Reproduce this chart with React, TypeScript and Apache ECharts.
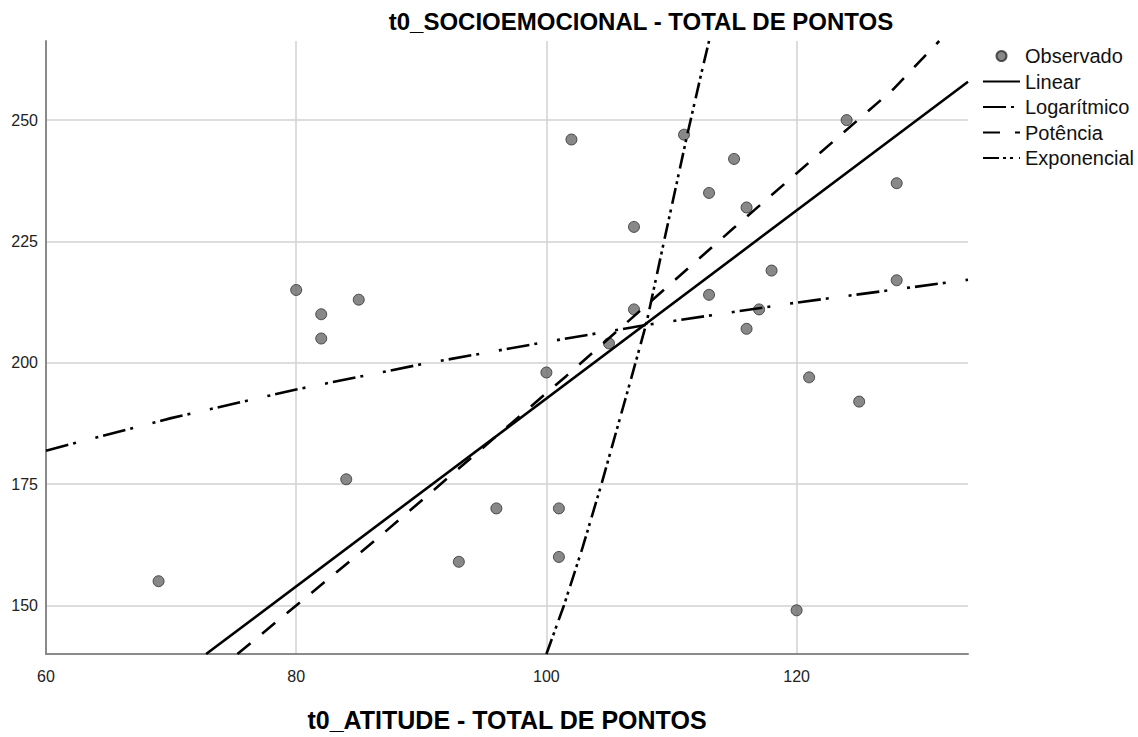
import React, { useEffect, useRef } from "react";
import * as echarts from "echarts";

const FONT = "Liberation Sans";

const titleText = "t0_SOCIOEMOCIONAL - TOTAL DE PONTOS";
const xName = "t0_ATITUDE - TOTAL DE PONTOS";
const xTicks = [60, 80, 100, 120];
const yTicks = [150, 175, 200, 225, 250];
const legendNames = ["Observado", "Linear", "Logarítmico", "Potência", "Exponencial"];

// observed points [atitude, socioemocional]
const observed: number[][] = [
  [69, 155], [80, 215], [82, 210], [82, 205], [85, 213], [84, 176],
  [93, 159], [96, 170], [100, 198], [101, 170], [101, 160], [102, 246],
  [105, 204], [107, 228], [107, 211], [111, 247], [113, 235], [113, 214],
  [115, 242], [116, 232], [116, 207], [117, 211], [118, 219], [120, 149],
  [121, 197], [124, 250], [125, 192], [128, 237], [128, 217],
];

// fitted curves
const linearFit: number[][] = [[72.8, 140], [133.7, 257.9]];
const logFit: number[][] = [
  [60, 181.9], [70, 188.6], [80, 194.5], [90, 199.7], [100, 204.3],
  [108, 207.8], [120, 212.4], [133.7, 217.1],
];
const powerFit: number[][] = [
  [75.3, 140], [80, 150], [86.4, 163.6], [101.6, 197.3],
  [114.9, 227.6], [127.7, 256.3], [131.4, 266.3],
];
const expFit: number[][] = [
  [100, 140], [101.4, 150], [102.9, 162], [104.4, 175], [106.8, 197],
  [108, 208.2], [109.4, 225], [111.2, 246.3], [112.4, 259.8], [113, 266.3],
];

export default function App() {
  const ref = useRef<HTMLDivElement>(null);
  useEffect(() => {
    if (!ref.current) return;
    const chart = echarts.init(ref.current, undefined, { renderer: "svg" });
    const lineBase = (name: string, data: number[][], type: any) => ({
      name,
      type: "line",
      data,
      showSymbol: false,
      symbol: "none",
      clip: true,
      silent: true,
      lineStyle: { color: "#000", width: 2.6, type, cap: "butt" },
      itemStyle: { color: "#000", opacity: 0 },
    });
    chart.setOption({
      animation: false,
      backgroundColor: "#fff",
      textStyle: { fontFamily: FONT },
      graphic: [
        {
          type: "text",
          x: 641,
          y: 21,
          style: {
            text: titleText,
            fontFamily: FONT,
            fontSize: 24,
            fontWeight: "bold",
            fill: "#000",
            textAlign: "center",
            textVerticalAlign: "middle",
          },
        },
      ],
      grid: { left: 46, top: 41, right: 170, bottom: 79, containLabel: false },
      legend: {
        orient: "vertical",
        left: 982,
        top: 46,
        padding: 0,
        itemWidth: 37,
        itemHeight: 10,
        itemGap: 5.5,
        selectedMode: false,
        textStyle: { fontFamily: FONT, fontSize: 20, color: "#111" },
        data: legendNames.map((n, i) =>
          i === 0 ? { name: n } : { name: n, itemStyle: { opacity: 0 } }
        ),
      },
      xAxis: {
        type: "value",
        min: 60,
        max: 133.7,
        name: xName,
        nameLocation: "middle",
        nameGap: 53,
        nameTextStyle: { fontFamily: FONT, fontSize: 25, fontWeight: "bold", color: "#000" },
        axisLine: { show: true, lineStyle: { color: "#8a8a8a", width: 2 } },
        axisTick: { show: false, customValues: xTicks },
        axisLabel: { customValues: xTicks, fontSize: 16, color: "#222", margin: 14, fontFamily: FONT },
        splitLine: { show: true, lineStyle: { color: "#d2d2d2", width: 1.5 } },
      },
      yAxis: {
        type: "value",
        min: 140,
        max: 266.3,
        axisLine: { show: true, lineStyle: { color: "#8a8a8a", width: 2 } },
        axisTick: { show: false, customValues: yTicks },
        axisLabel: { customValues: yTicks, fontSize: 16, color: "#222", margin: 8, fontFamily: FONT },
        splitLine: { show: true, lineStyle: { color: "#d2d2d2", width: 1.5 } },
      },
      series: [
        {
          name: "Observado",
          type: "scatter",
          data: observed,
          symbol: "circle",
          symbolSize: 11,
          itemStyle: { color: "#6a6a6a", borderColor: "#2e2e2e", borderWidth: 1 },
          silent: true,
        },
        lineBase("Linear", linearFit, "solid"),
        lineBase("Logarítmico", logFit, [23, 5, 3, 20, 3, 5]),
        lineBase("Potência", powerFit, [17, 15]),
        lineBase("Exponencial", expFit, [16, 4, 3, 4, 3, 6]),
      ],
    });
    return () => chart.dispose();
  }, []);
  return (
    <div
      ref={ref}
      style={{ position: "fixed", left: 0, top: 0, width: 1138, height: 737, background: "#fff" }}
    />
  );
}
